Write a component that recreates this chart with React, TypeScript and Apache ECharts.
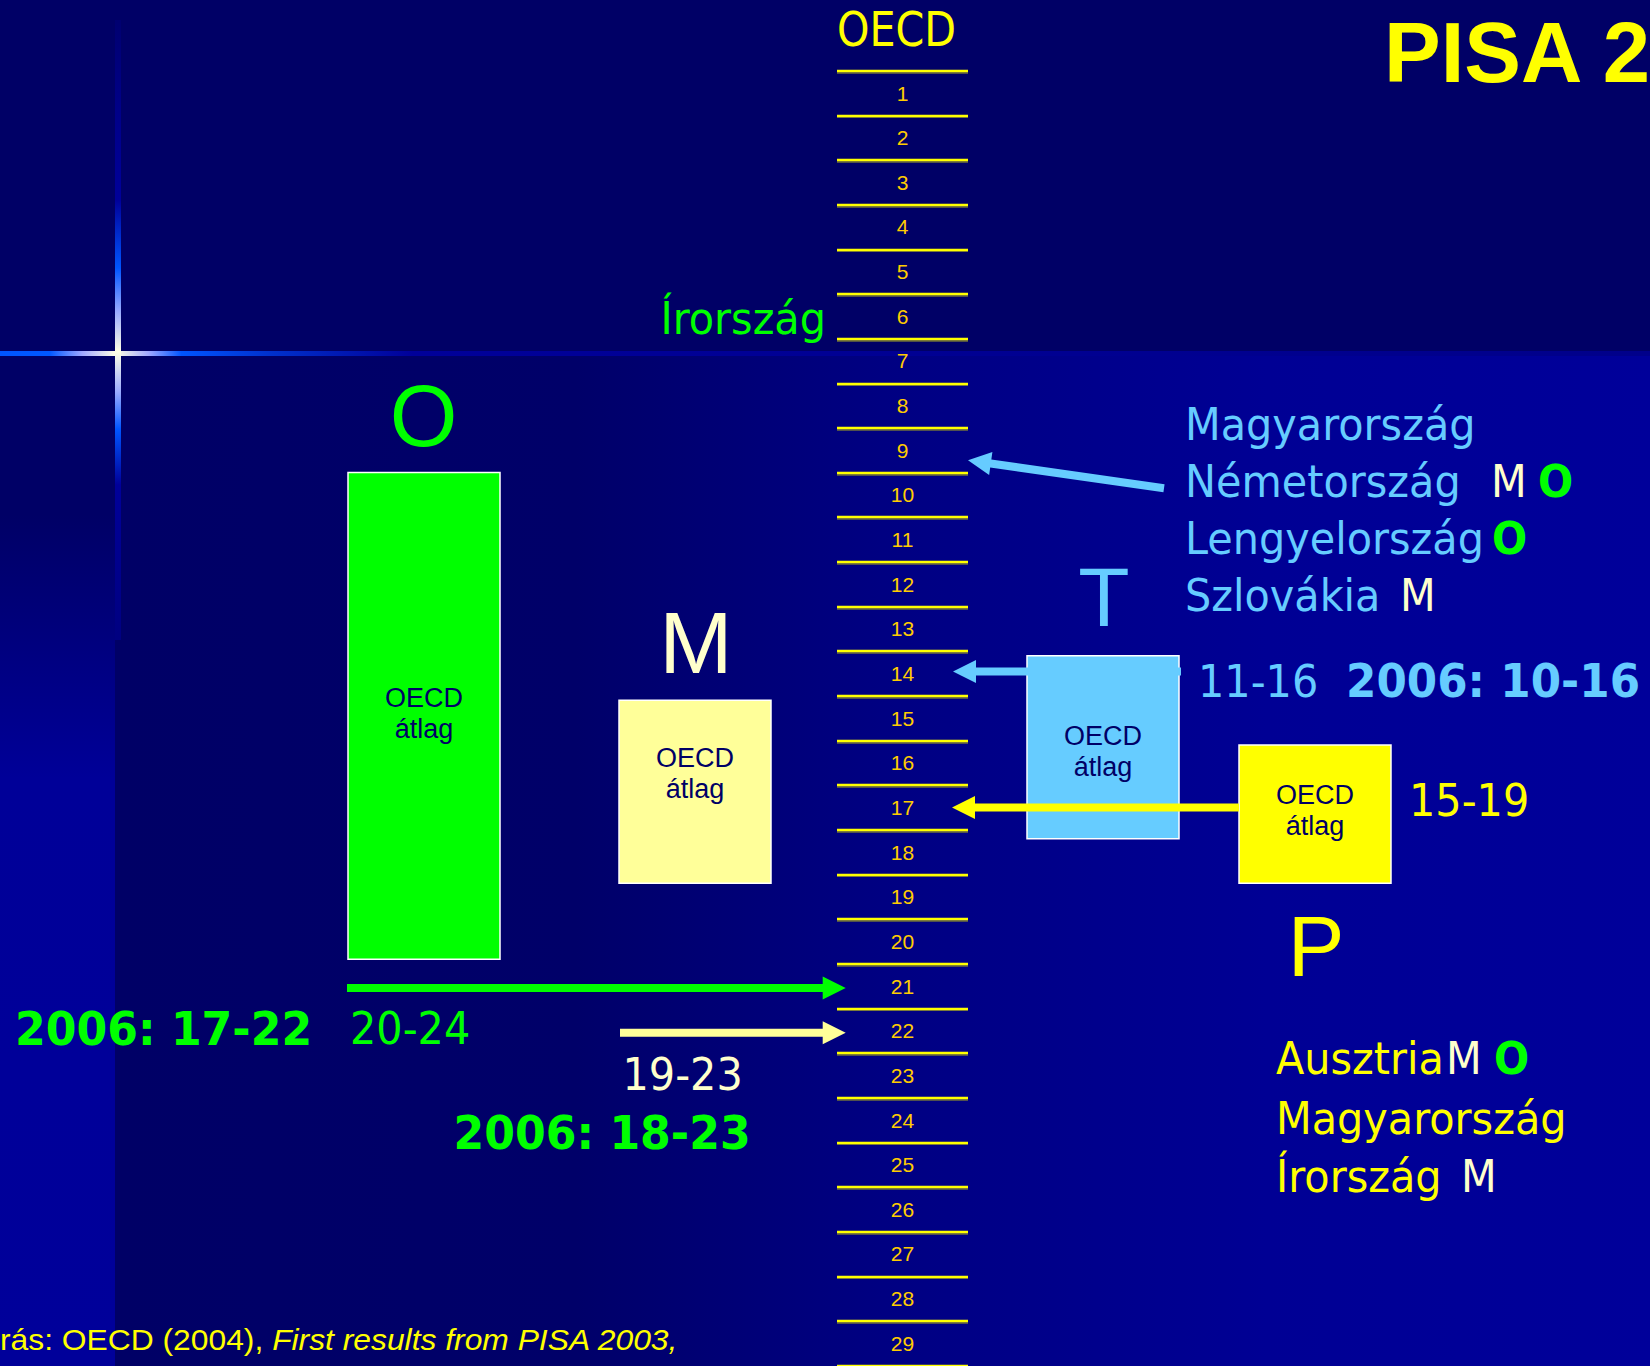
import React, { useEffect, useRef } from 'react';
import * as echarts from 'echarts';

// ---------------- data ----------------
const rankLabels = ['1', '2', '3', '4', '5', '6', '7', '8', '9', '10', '11', '12', '13', '14', '15',
  '16', '17', '18', '19', '20', '21', '22', '23', '24', '25', '26', '27', '28', '29'];

// subject boxes: O = olvasás, M = matematika, T = természettudomány, P = problémamegoldás
const subjects = ['O', 'M', 'T', 'P'];
// OECD-average band of each subject, in rank-line units (line k lies below rank k)
const boxTopLine = [9.0, 14.1, 13.1, 15.1];
const boxBottomLine = [19.9, 18.2, 17.2, 18.2];
const boxLabel = 'OECD\nátlag';

// Hungary's rank (arrow targets) and ranges
const arrowRank = [21, 22, 14, 17, 9];
const range2003 = ['20-24', '19-23', '11-16', '15-19'];
const range2006 = ['2006: 17-22', '2006: 18-23', '2006: 10-16'];

const leftTopCountry = 'Írország';
const scienceGroup = ['Magyarország', 'Németország', 'Lengyelország', 'Szlovákia'];
const scienceGroupM = [false, true, false, true];
const scienceGroupO = [false, true, true, false];
const problemGroup = ['Ausztria', 'Magyarország', 'Írország'];
const problemGroupM = [true, false, true];
const problemGroupO = [true, false, false];

// ---------------- styles / layout ----------------
const W = 1650;
const H = 1366;
const LADDER_LEFT = 837;
const LADDER_W = 131;
const LADDER_TOP = 70.7;
const LADDER_H = 1294.9;

const GREEN = '#00FF00';
const YELLOW = '#FFFF00';
const CREAM = '#FFFFCC';
const BLUE = '#66CCFF';
const NUM = '#FFCC00';
const NAVY = '#000066';

const AR = '"Liberation Sans", Arial, sans-serif';
const DV = '"DejaVu Sans", Verdana, sans-serif';

const BOX_X = [348, 619, 1027, 1239];
const BOX_W = 152;
const BOX_COLORS = [GREEN, '#FFFF99', BLUE, YELLOW];
const LABEL_DY = [-2, -18, 4, -4];

const ARROW_COLORS = [GREEN, '#FFFF99', BLUE, YELLOW, BLUE];
const ARROW_LAYOUT = [
  { tail: 347, tip: 845.7, tailDy: 2, tipDy: 2 },
  { tail: 620, tip: 845.7, tailDy: 2, tipDy: 2 },
  { tail: 1181, tip: 953, tailDy: -2, tipDy: -2 },
  { tail: 1239, tip: 952, tailDy: 0, tipDy: 0 },
  { tail: 1164, tip: 968, tailDy: 38, tipDy: 10 },
];

function arrowPoints(x0: number, y0: number, x1: number, y1: number) {
  const shaft = 4, head = 11.5, headLen = 23;
  const dx = x1 - x0, dy = y1 - y0;
  const len = Math.hypot(dx, dy);
  const ux = dx / len, uy = dy / len;
  const nx = -uy, ny = ux;
  const bx = x1 - ux * headLen, by = y1 - uy * headLen;
  return [
    [x0 + nx * shaft, y0 + ny * shaft],
    [bx + nx * shaft, by + ny * shaft],
    [bx + nx * head, by + ny * head],
    [x1, y1],
    [bx - nx * head, by - ny * head],
    [bx - nx * shaft, by - ny * shaft],
    [x0 - nx * shaft, y0 - ny * shaft],
  ];
}

type TOpts = {
  size: number; family: string; color: string; sx?: number;
  weight?: string; align?: string; italic?: boolean;
};
function txt(text: string, x: number, y: number, o: TOpts) {
  return {
    type: 'text', x, y, z: 100, scaleX: o.sx ?? 1, silent: true,
    style: {
      text, fill: o.color, fontSize: o.size, fontFamily: o.family,
      fontWeight: o.weight ?? 'normal', fontStyle: o.italic ? 'italic' : 'normal',
      align: o.align ?? 'left', verticalAlign: 'middle',
    },
  };
}

function buildGraphics() {
  const g: any[] = [];
  // background pieces
  g.push({
    type: 'rect', z: -10, silent: true,
    shape: { x: 115, y: 353, width: W - 115, height: H - 353 },
    style: {
      fill: new echarts.graphic.LinearGradient(0, 0, 1, 0, [
        { offset: 0, color: '#000066' },
        { offset: 0.3, color: '#000069' },
        { offset: 0.5, color: '#000082' },
        { offset: 0.75, color: '#000094' },
        { offset: 1, color: '#00009A' },
      ]),
    },
  });
  g.push({
    type: 'rect', z: -10, silent: true,
    shape: { x: 0, y: 353, width: 115, height: H - 353 },
    style: {
      fill: new echarts.graphic.LinearGradient(0, 0, 0, 1, [
        { offset: 0, color: '#000066' },
        { offset: 0.16, color: '#000066' },
        { offset: 0.42, color: '#000098' },
        { offset: 1, color: '#00009A' },
      ]),
    },
  });
  // lens flare: horizontal
  g.push({
    type: 'rect', z: -9, silent: true,
    shape: { x: 0, y: 351, width: W, height: 5 },
    style: {
      fill: new echarts.graphic.LinearGradient(0, 0, 1, 0, [
        { offset: 0, color: '#0055FF' },
        { offset: 0.03, color: '#0058FF' },
        { offset: 0.05, color: '#A0A8FF' },
        { offset: 0.07, color: '#FFFFE6' },
        { offset: 0.09, color: '#A0A8FF' },
        { offset: 0.11, color: '#0055FF' },
        { offset: 0.165, color: '#0030CC' },
        { offset: 0.25, color: '#000099' },
        { offset: 1, color: '#00008A' },
      ]),
    },
  });
  // lens flare: vertical
  g.push({
    type: 'rect', z: -9, silent: true,
    shape: { x: 115, y: 20, width: 6, height: 620 },
    style: {
      fill: new echarts.graphic.LinearGradient(0, 0, 0, 1, [
        { offset: 0, color: '#000070' },
        { offset: 0.15, color: '#000088' },
        { offset: 0.29, color: '#000099' },
        { offset: 0.4, color: '#0055FF' },
        { offset: 0.47, color: '#99AAFF' },
        { offset: 0.535, color: '#FFFFE6' },
        { offset: 0.6, color: '#99AAFF' },
        { offset: 0.66, color: '#0055FF' },
        { offset: 0.75, color: '#000099' },
        { offset: 1, color: '#000080' },
      ]),
    },
  });

  // titles
  g.push(txt('OECD', 896.5, 29, { size: 48, family: DV, sx: 0.86, align: 'center', color: YELLOW }));
  g.push(txt('PISA 2', 1384, 52, { size: 85, family: AR, weight: 'bold', color: YELLOW }));
  g.push(txt(leftTopCountry, 826, 318, { size: 45, family: DV, sx: 0.92, align: 'right', color: GREEN }));

  // subject letters
  g.push(txt(subjects[0], 423.5, 415, { size: 87, family: AR, align: 'center', color: GREEN }));
  g.push(txt(subjects[1], 696, 642, { size: 88, family: AR, align: 'center', color: CREAM }));
  g.push(txt(subjects[2], 1104, 597, { size: 84, family: AR, align: 'center', color: BLUE }));
  g.push(txt(subjects[3], 1316, 946, { size: 85, family: AR, align: 'center', color: YELLOW }));

  // science group list
  const sciY = [424.7, 481.7, 538.5, 595.8];
  const sciMX = [0, 1491, 0, 1400];
  const sciOX = [0, 1538, 1492, 0];
  scienceGroup.forEach((c, i) => {
    g.push(txt(c, 1185, sciY[i], { size: 45, family: DV, sx: 0.92, color: BLUE }));
    if (scienceGroupM[i]) g.push(txt('M', sciMX[i], sciY[i], { size: 45, family: DV, sx: 0.92, color: CREAM }));
    if (scienceGroupO[i]) g.push(txt('O', sciOX[i], sciY[i], { size: 45, family: DV, sx: 0.92, weight: 'bold', color: GREEN }));
  });

  // problem solving group list
  const probY = [1058.7, 1118, 1176.5];
  const probMX = [1446, 0, 1461];
  const probOX = [1494, 0, 0];
  problemGroup.forEach((c, i) => {
    g.push(txt(c, 1276, probY[i], { size: 45, family: DV, sx: 0.92, color: YELLOW }));
    if (problemGroupM[i]) g.push(txt('M', probMX[i], probY[i], { size: 45, family: DV, sx: 0.92, color: CREAM }));
    if (problemGroupO[i]) g.push(txt('O', probOX[i], probY[i], { size: 45, family: DV, sx: 0.92, weight: 'bold', color: GREEN }));
  });

  // ranges
  g.push(txt(range2006[0], 15, 1028.7, { size: 46, family: DV, sx: 0.96, weight: 'bold', color: GREEN }));
  g.push(txt(range2003[0], 350, 1028.7, { size: 45, family: DV, sx: 0.92, color: GREEN }));
  g.push(txt(range2003[1], 622.5, 1074.4, { size: 45, family: DV, sx: 0.92, color: CREAM }));
  g.push(txt(range2006[1], 453.5, 1133.4, { size: 46, family: DV, sx: 0.96, weight: 'bold', color: GREEN }));
  g.push(txt(range2003[2], 1198, 681, { size: 45, family: DV, sx: 0.92, color: BLUE }));
  g.push(txt(range2006[2], 1346, 681, { size: 46, family: DV, sx: 0.95, weight: 'bold', color: BLUE }));
  g.push(txt(range2003[3], 1409, 800.8, { size: 45, family: DV, sx: 0.92, color: YELLOW }));

  // source
  g.push({
    type: 'text', x: 0, y: 1340, z: 100, scaleX: 1.06, silent: true,
    style: {
      text: '{a|rás: OECD (2004), }{b|First results from PISA 2003,}',
      verticalAlign: 'middle', align: 'left',
      rich: {
        a: { fill: YELLOW, fontSize: 30, fontFamily: AR },
        b: { fill: YELLOW, fontSize: 30, fontFamily: AR, fontStyle: 'italic' },
      },
    },
  });
  return g;
}

function ladderAxis(gridIndex: number, showLabels: boolean, color: string, width: number, z: number) {
  return {
    type: 'category', gridIndex, data: rankLabels, inverse: true, boundaryGap: true, z,
    axisLine: { show: false }, axisTick: { show: false },
    axisLabel: {
      show: showLabels, interval: 0, margin: -(LADDER_W / 2), align: 'center',
      color: NUM, fontSize: 21, fontFamily: AR,
    },
    splitLine: {
      show: true, interval: 0, showMinLine: true, showMaxLine: true,
      lineStyle: { color, width },
    },
  };
}

function buildOption(): any {
  return {
    animation: false,
    backgroundColor: NAVY,
    grid: [
      // shadow of the ladder lines (drawn first, slightly lower)
      { left: LADDER_LEFT, top: LADDER_TOP + 1.8, width: LADDER_W, height: LADDER_H, containLabel: false, outerBoundsMode: 'none' },
      // ladder
      { left: LADDER_LEFT, top: LADDER_TOP, width: LADDER_W, height: LADDER_H, containLabel: false, outerBoundsMode: 'none' },
      // full canvas for marks
      { left: 0, top: LADDER_TOP, width: W, height: LADDER_H, containLabel: false, outerBoundsMode: 'none' },
    ],
    xAxis: [
      { type: 'value', gridIndex: 0, show: false, min: 0, max: 1 },
      { type: 'value', gridIndex: 1, show: false, min: 0, max: 1 },
      { type: 'value', gridIndex: 2, show: false, min: 0, max: W },
    ],
    yAxis: [
      ladderAxis(0, false, '#6E6E3C', 1.6, 1),
      ladderAxis(1, true, YELLOW, 2.4, 2),
      { type: 'value', gridIndex: 2, show: false, min: 0, max: 29, inverse: true },
    ],
    series: [
      {
        type: 'custom', name: 'boxes', xAxisIndex: 2, yAxisIndex: 2, silent: true, clip: false,
        data: subjects.map((s, i) => [i, boxTopLine[i], boxBottomLine[i]]),
        renderItem: (params: any, api: any) => {
          const i = api.value(0);
          const p0 = api.coord([BOX_X[i], api.value(1)]);
          const p1 = api.coord([BOX_X[i] + BOX_W, api.value(2)]);
          return {
            type: 'group',
            children: [
              {
                type: 'rect',
                shape: { x: p0[0], y: p0[1], width: p1[0] - p0[0], height: p1[1] - p0[1] },
                style: { fill: BOX_COLORS[i], stroke: '#FFFFFF', lineWidth: 1.5 },
              },
              {
                type: 'text',
                x: (p0[0] + p1[0]) / 2,
                y: (p0[1] + p1[1]) / 2 + LABEL_DY[i],
                style: {
                  text: boxLabel, fill: NAVY, fontSize: 27, fontFamily: AR,
                  align: 'center', verticalAlign: 'middle', lineHeight: 31,
                },
              },
            ],
          };
        },
      },
      {
        type: 'custom', name: 'arrows', xAxisIndex: 2, yAxisIndex: 2, silent: true, clip: false,
        data: arrowRank.map((r, i) => [i, r]),
        renderItem: (params: any, api: any) => {
          const i = api.value(0);
          const r = api.value(1);
          const L = ARROW_LAYOUT[i];
          const a = api.coord([L.tail, r - 0.5]);
          const b = api.coord([L.tip, r - 0.5]);
          return {
            type: 'polygon',
            shape: { points: arrowPoints(a[0], a[1] + L.tailDy, b[0], b[1] + L.tipDy) },
            style: { fill: ARROW_COLORS[i] },
          };
        },
      },
    ],
    graphic: buildGraphics(),
  };
}

export default function App() {
  const ref = useRef<HTMLDivElement>(null);
  useEffect(() => {
    document.body.style.margin = '0';
    document.body.style.overflow = 'hidden';
    const chart = echarts.init(ref.current as HTMLDivElement, undefined, { renderer: 'svg' });
    chart.setOption(buildOption());
    return () => chart.dispose();
  }, []);
  return <div ref={ref} style={{ width: W, height: H }} />;
}
